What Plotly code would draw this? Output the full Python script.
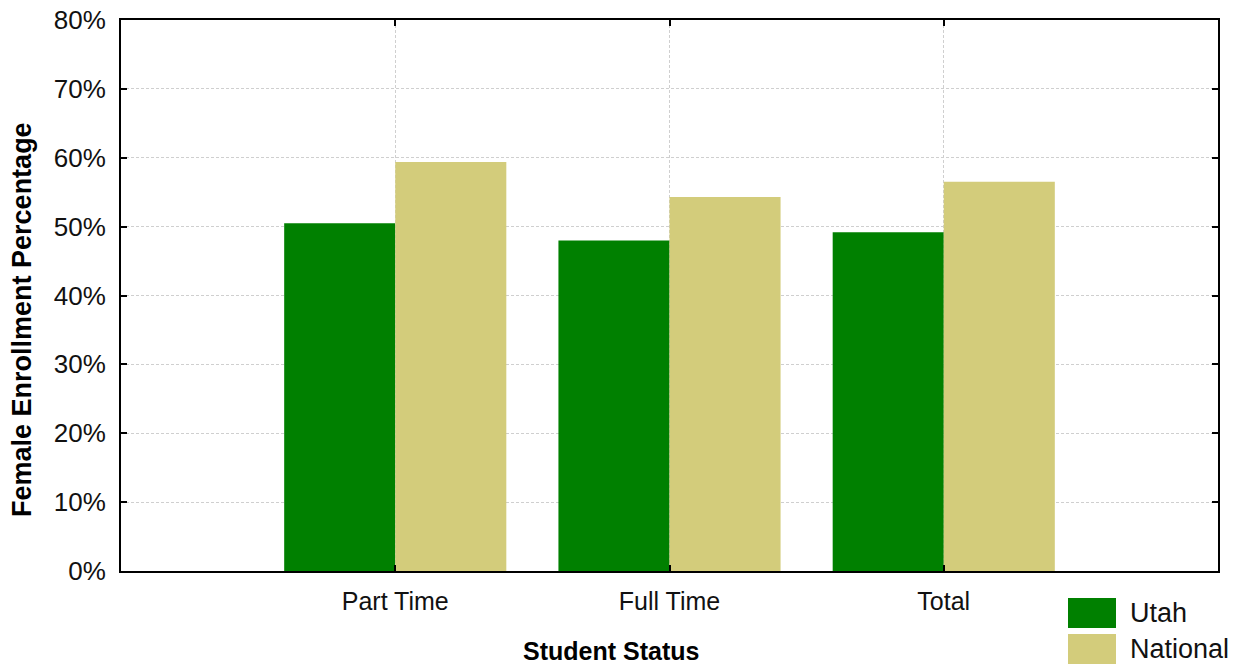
import plotly.graph_objects as go

categories = ["Part Time", "Full Time", "Total"]
utah = [50.5, 48.0, 49.2]
national = [59.4, 54.3, 56.5]
series_names = ["Utah", "National"]
colors = ["#008000", "#D3CC7B"]
y_ticks = [0, 10, 20, 30, 40, 50, 60, 70, 80]

W, H = 1246, 667
L, R, T, B = 121, 1218, 20, 571

def px(x):
    return (x - L) / (R - L)

def py(y):
    return (B - y) / (B - T)

fig = go.Figure()
for name, vals, col in zip(series_names, [utah, national], colors):
    fig.add_trace(go.Bar(x=categories, y=vals, name=name, marker_color=col,
                         marker_line_width=0, showlegend=False))

font_family = "Liberation Sans, Arial, sans-serif"
grid_dash = "3px,2px"
fig.update_layout(
    width=W, height=H,
    margin=dict(l=L, r=W - R, t=T, b=H - B, pad=0, autoexpand=False),
    paper_bgcolor="white", plot_bgcolor="white",
    barmode="group", bargap=0.19, bargroupgap=0,
    font=dict(family=font_family, size=25, color="#111111"),
)
fig.update_xaxes(
    type="category", categoryorder="array", categoryarray=categories,
    range=[-1, 3], automargin=False,
    showline=True, linecolor="black", linewidth=2, mirror="allticks",
    ticks="inside", ticklen=6, tickwidth=2, tickcolor="black",
    showgrid=True, gridcolor="#CFCFCF", griddash=grid_dash, gridwidth=1,
    tickfont=dict(size=25), ticklabelstandoff=7,
)
fig.update_yaxes(
    range=[0, 80], tickvals=y_ticks, ticktext=[f"{v}%" for v in y_ticks],
    automargin=False,
    showline=True, linecolor="black", linewidth=2, mirror="allticks",
    ticks="inside", ticklen=6, tickwidth=2, tickcolor="black",
    showgrid=True, gridcolor="#CFCFCF", griddash=grid_dash, gridwidth=1,
    zeroline=False, tickfont=dict(size=26), ticklabelstandoff=8,
)

# axis titles
fig.add_annotation(text="<b>Student Status</b>", xref="paper", yref="paper",
                   x=px(611), y=py(651), showarrow=False,
                   font=dict(size=25, color="black"), xanchor="center", yanchor="middle")
fig.add_annotation(text="<b>Female Enrollment Percentage</b>", xref="paper", yref="paper",
                   x=px(22), y=py(320), showarrow=False, textangle=-90,
                   font=dict(size=27, color="black"), xanchor="center", yanchor="middle")

# legend
legend_rows = [613, 649]
for name, col, cy in zip(series_names, colors, legend_rows):
    fig.add_shape(type="rect", xref="paper", yref="paper",
                  x0=px(1068), x1=px(1116), y0=py(cy - 15), y1=py(cy + 15),
                  fillcolor=col, line_width=0)
    fig.add_annotation(text=name, xref="paper", yref="paper",
                       x=px(1128), y=py(cy), showarrow=False,
                       xanchor="left", yanchor="middle",
                       font=dict(size=27, color="#111111"))

fig.write_html("out.html", config={"displayModeBar": False},
               post_script="document.body.style.margin='0';document.body.style.overflow='hidden';")
